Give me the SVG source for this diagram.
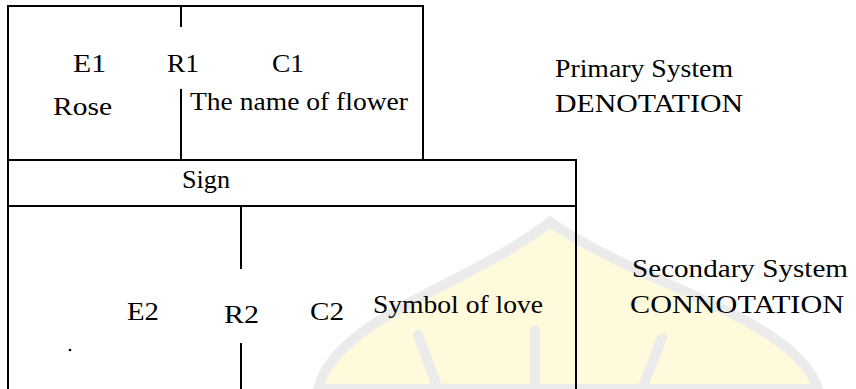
<svg xmlns="http://www.w3.org/2000/svg" width="856" height="389" viewBox="0 0 856 389">
<style>
.ln{stroke:#000;stroke-width:2;fill:none}
text{font-family:'Liberation Serif','DejaVu Serif',serif;font-size:26px;fill:#000}
.wm{fill:none;stroke:#ebebeb;stroke-width:10;stroke-linecap:round}
</style>
<rect width="856" height="389" fill="#fff"/>
<g id="watermark">
<path d="M 318 389 C 335 318 470 285 550 222 C 640 285 795 318 818 389 Z" fill="#fffadb" stroke="#ebebeb" stroke-width="10"/>
<path class="wm" d="M 418 335 L 438 389"/>
<path class="wm" d="M 535 330 L 535 389"/>
<path class="wm" d="M 662 338 L 642 389"/>
</g>
<g id="connectors">
<rect class="ln" x="8" y="6" width="415" height="154"/>
<rect class="ln" x="8" y="160" width="568" height="46"/>
<line class="ln" x1="8" y1="206" x2="8" y2="389"/>
<line class="ln" x1="576" y1="206" x2="576" y2="389"/>
<line class="ln" x1="181" y1="6" x2="181" y2="27"/>
<line class="ln" x1="181" y1="89" x2="181" y2="160"/>
<line class="ln" x1="241" y1="206" x2="241" y2="269"/>
<line class="ln" x1="241" y1="343" x2="241" y2="389"/>
<circle cx="70" cy="350" r="1.3" fill="#000"/>
</g>
<g id="primary">
<text x="73" y="72" textLength="33" lengthAdjust="spacingAndGlyphs">E1</text>
<text x="167" y="72" textLength="32" lengthAdjust="spacingAndGlyphs">R1</text>
<text x="272" y="72" textLength="32" lengthAdjust="spacingAndGlyphs">C1</text>
<text x="53" y="115" textLength="59" lengthAdjust="spacingAndGlyphs">Rose</text>
<text x="190" y="110" textLength="218" lengthAdjust="spacingAndGlyphs">The name of flower</text>
</g>
<g id="sign">
<text x="182" y="188" textLength="48" lengthAdjust="spacingAndGlyphs">Sign</text>
</g>
<g id="secondary">
<text x="127" y="320" textLength="32" lengthAdjust="spacingAndGlyphs">E2</text>
<text x="224" y="323" textLength="35" lengthAdjust="spacingAndGlyphs">R2</text>
<text x="310" y="320" textLength="34" lengthAdjust="spacingAndGlyphs">C2</text>
<text x="373" y="313" textLength="170" lengthAdjust="spacingAndGlyphs">Symbol of love</text>
</g>
<g id="denotation">
<text x="555" y="77" textLength="178" lengthAdjust="spacingAndGlyphs">Primary System</text>
<text x="555" y="112" textLength="188" lengthAdjust="spacingAndGlyphs">DENOTATION</text>
</g>
<g id="connotation">
<text x="632" y="277" textLength="216" lengthAdjust="spacingAndGlyphs">Secondary System</text>
<text x="630" y="313" textLength="214" lengthAdjust="spacingAndGlyphs">CONNOTATION</text>
</g>
</svg>
